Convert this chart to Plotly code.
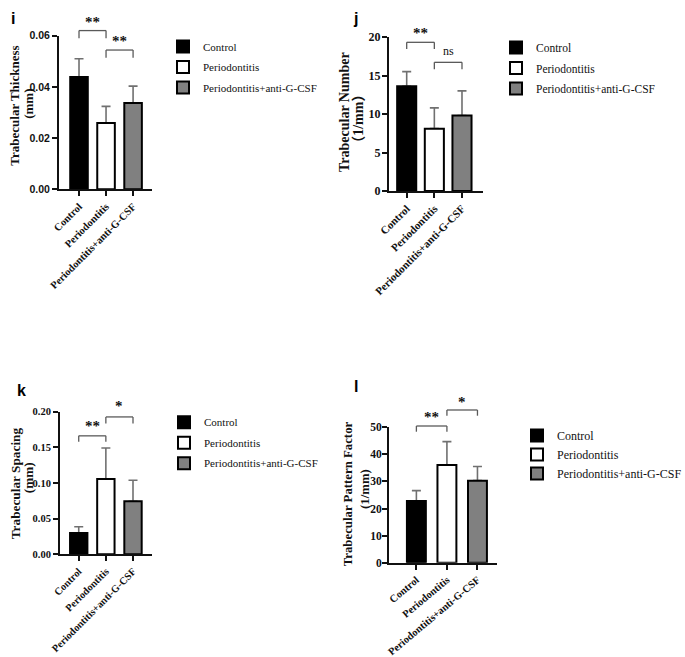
import plotly.graph_objects as go

W, H = 685, 657

# ---------------- data ----------------
groups = ["Control", "Periodontitis", "Periodontitis+anti-G-CSF"]
fill_colors = ["#000000", "#ffffff", "#808080"]

thickness_mean = [0.0439, 0.0259, 0.0337]
thickness_sd = [0.0071, 0.0065, 0.0066]
number_mean = [13.6, 8.1, 9.8]
number_sd = [1.9, 2.7, 3.2]
spacing_mean = [0.0300, 0.1055, 0.0744]
spacing_sd = [0.0085, 0.0433, 0.0293]
pattern_mean = [22.8, 36.1, 30.3]
pattern_sd = [3.8, 8.6, 5.2]

# significance brackets: (left idx, right idx, bracket height, drop end, label, label height)
thickness_sig = [(0, 1, 0.0620, 0.0590, "**", 0.0659), (1, 2, 0.0544, 0.0514, "**", 0.0583)]
number_sig = [(0, 1, 19.31, 18.44, "**", 20.69), (1, 2, 16.71, 15.80, "ns", 18.09)]
spacing_sig = [(0, 1, 0.1659, 0.1575, "**", 0.1808), (1, 2, 0.1924, 0.1832, "*", 0.2088)]
pattern_sig = [(0, 1, 50.48, 48.37, "**", 54.17), (1, 2, 56.39, 54.28, "*", 59.82)]

SERIF = "Liberation Serif"
SANS = "Liberation Sans"
CJK = "Liberation Serif, Noto Sans CJK SC"
INK = "#111111"
ERR = "#707070"
BRK = "#5a5a5a"

panels = [
    dict(letter="i", mean=thickness_mean, sd=thickness_sd, sig=thickness_sig,
         title1="Trabecular Thickness", title2="(mm)", tsize=13,
         t1=(15, 105.7), t2=(28.3, 103.5), let=(13, 18),
         xpx=(59, 152), ypx=(35.7, 189.3), xr=(-0.74, 2.70), ymax=0.06, dtick=0.02, fmt=".2f",
         yfont=dict(family=SANS, size=10.5, color=INK), xfs=10.5, xang=-45, bw=0.65, so=0,
         leg=(203, 46), lfs=11, gap=1.5),
    dict(letter="j", mean=number_mean, sd=number_sd, sig=number_sig,
         title1="Trabecular Number", title2="（1/mm）", tsize=14,
         t1=(344, 112), t2=(358.3, 118.5), let=(355, 19),
         xpx=(389, 483), ypx=(37, 191), xr=(-0.64, 2.76), ymax=20, dtick=5, fmt="d",
         yfont=dict(family=SERIF, size=12, color=INK), xfs=11, xang=-45, bw=0.69, so=-1,
         leg=(536, 47), lfs=11.5, gap=1.5),
    dict(letter="k", mean=spacing_mean, sd=spacing_sd, sig=spacing_sig,
         title1="Trabecular Spacing", title2="(mm)", tsize=13.3,
         t1=(15, 483.3), t2=(28.3, 478), let=(21, 390),
         xpx=(60, 152), ypx=(411.5, 554.3), xr=(-0.69, 2.70), ymax=0.20, dtick=0.05, fmt=".2f",
         yfont=dict(family=SERIF, size=10.5, color=INK), xfs=10.3, xang=-45, bw=0.64, so=0,
         leg=(204, 421.7), lfs=11, gap=1.5),
    dict(letter="l", mean=pattern_mean, sd=pattern_sd, sig=pattern_sig,
         title1="Trabecular Pattern Factor", title2="(1/mm)", tsize=12.8,
         t1=(348.3, 494), t2=(365, 489), let=(356, 386),
         xpx=(389, 497), ypx=(427.3, 562.7), xr=(-0.897, 2.64), ymax=50, dtick=10, fmt="d",
         yfont=dict(family=SERIF, size=11.5, color=INK), xfs=10.5, xang=-40, bw=0.62, so=-2,
         leg=(557, 435), lfs=12, gap=0),
]


def fx(px):
    return px / W


def fy(py):
    return 1 - py / H


fig = go.Figure()
layout = dict(
    width=W, height=H, autosize=False,
    margin=dict(l=0, r=0, t=0, b=0, pad=0, autoexpand=False),
    paper_bgcolor="white", plot_bgcolor="white",
    font=dict(family=SERIF, color=INK),
    barmode="overlay",
    showlegend=True,
)
shapes = []
annotations = []

for n, p in enumerate(panels, start=1):
    sfx = "" if n == 1 else str(n)
    xa, ya = "x" + sfx, "y" + sfx
    legname = "legend" + sfx
    for g, m, s, c in zip(groups, p["mean"], p["sd"], fill_colors):
        # error bar carrier (drawn first so the visible bar covers its base)
        fig.add_trace(go.Bar(
            x=[g], y=[m], width=p["bw"], xaxis=xa, yaxis=ya,
            marker=dict(color="rgba(0,0,0,0)", line=dict(width=0)),
            error_y=dict(type="data", symmetric=False, array=[s], arrayminus=[0],
                         color=ERR, thickness=1.6, width=4.5),
            showlegend=False, hoverinfo="skip", legend=legname,
        ))
        fig.add_trace(go.Bar(
            x=[g], y=[m], width=p["bw"], xaxis=xa, yaxis=ya, name=g,
            marker=dict(color=c, line=dict(color="#000000", width=2)),
            legend=legname, legendgroup=f"{n}-{g}",
        ))

    layout["xaxis" + sfx] = dict(
        domain=[fx(p["xpx"][0]), fx(p["xpx"][1])], range=list(p["xr"]),
        type="category", categoryorder="array", categoryarray=groups,
        anchor=ya, showline=True, linecolor=INK, linewidth=2,
        ticks="outside", ticklen=5, tickwidth=2, tickcolor=INK, tickangle=p["xang"],
        tickfont=dict(family=SERIF, size=p["xfs"], color=INK, weight="bold"),
        showgrid=False, zeroline=False, fixedrange=True, automargin=False,
    )
    yf = dict(p["yfont"])
    yf["weight"] = "bold"
    layout["yaxis" + sfx] = dict(
        domain=[fy(p["ypx"][1]), fy(p["ypx"][0])], range=[0, p["ymax"]],
        anchor=xa, showline=True, linecolor=INK, linewidth=2,
        ticks="outside", ticklen=5, tickwidth=2, tickcolor=INK,
        dtick=p["dtick"], tick0=0, tickformat=p["fmt"], tickfont=yf,
        ticklabelstandoff=p["so"],
        showgrid=False, zeroline=False, fixedrange=True, automargin=False,
    )
    layout[legname] = dict(
        x=fx(p["leg"][0] - 40), y=fy(p["leg"][1] - 14), xanchor="left", yanchor="top",
        font=dict(family=SERIF, size=p["lfs"], color=INK),
        bgcolor="rgba(0,0,0,0)", borderwidth=0, tracegroupgap=p["gap"],
        itemclick=False, itemdoubleclick=False,
    )

    ydref = ya + " domain"
    for (i0, i1, yb, yd, lab, yl) in p["sig"]:
        b = yb / p["ymax"]
        d = yd / p["ymax"]
        for (xa0, ya0, xa1, ya1) in [(i0, b, i1, b), (i0, b, i0, d), (i1, b, i1, d)]:
            shapes.append(dict(type="line", xref=xa, yref=ydref, x0=xa0, y0=ya0, x1=xa1, y1=ya1,
                               line=dict(color=BRK, width=1.3)))
        if lab == "ns":
            lf = dict(family=SERIF, size=12, color=INK)
            ysh = 1
        else:
            lf = dict(family=SERIF, size=15, color=INK, weight="bold")
            ysh = -1
        annotations.append(dict(x=(i0 + i1) / 2, y=yl / p["ymax"], xref=xa, yref=ydref,
                                text=lab, showarrow=False, font=lf, yshift=ysh,
                                xanchor="center", yanchor="middle"))

    # axis titles (two rotated lines)
    annotations.append(dict(x=fx(p["t1"][0]), y=fy(p["t1"][1]), xref="paper", yref="paper",
                            text=p["title1"], textangle=-90, showarrow=False,
                            font=dict(family=SERIF, size=p["tsize"], color=INK, weight="bold"),
                            xanchor="center", yanchor="middle"))
    annotations.append(dict(x=fx(p["t2"][0]), y=fy(p["t2"][1]), xref="paper", yref="paper",
                            text=p["title2"], textangle=-90, showarrow=False,
                            font=dict(family=CJK, size=p["tsize"], color=INK, weight="bold"),
                            xanchor="center", yanchor="middle"))
    # panel letter
    annotations.append(dict(x=fx(p["let"][0]), y=fy(p["let"][1]), xref="paper", yref="paper",
                            text=p["letter"], showarrow=False,
                            font=dict(family=SANS, size=16, color="#000000", weight="bold"),
                            xanchor="center", yanchor="middle"))

layout["shapes"] = shapes
layout["annotations"] = annotations
fig.update_layout(**layout)
fig.write_html("out.html",
               config={"displayModeBar": False, "staticPlot": True},
               post_script="document.body.style.margin='0';document.body.style.overflow='hidden';")
